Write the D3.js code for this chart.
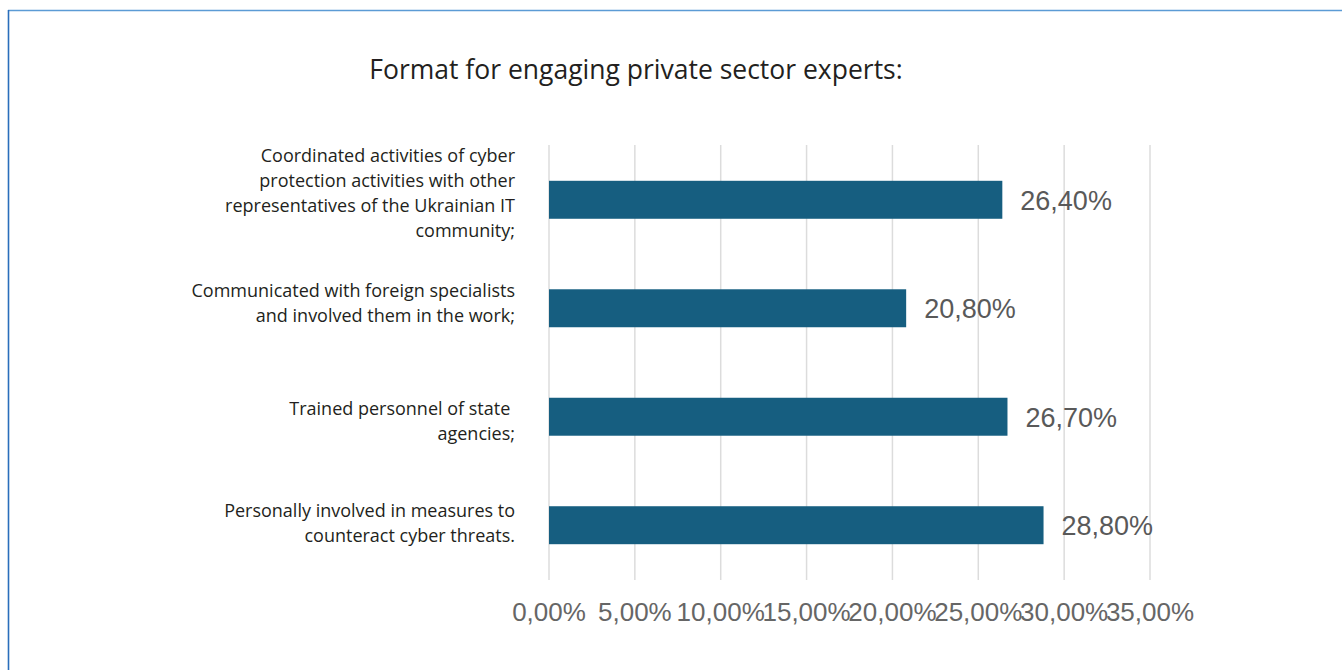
<!DOCTYPE html>
<html>
<head>
<meta charset="utf-8">
<script src="https://cdn.jsdelivr.net/npm/d3@7"></script>
<style>
  html, body { margin: 0; padding: 0; background: #fff; }
  svg { display: block; }
</style>
</head>
<body>
<svg id="chart" width="1342" height="670"></svg>
<script>
// Survey answers, top to bottom
const categories = [
  ["Coordinated activities of cyber", "protection activities with other", "representatives of the Ukrainian IT", "community;"],
  ["Communicated with foreign specialists", "and involved them in the work;"],
  ["Trained personnel of state ", "agencies;"],
  ["Personally involved in measures to", "counteract cyber threats."]
];
const values = [26.4, 20.8, 26.7, 28.8];
const valueLabels = ["26,40%", "20,80%", "26,70%", "28,80%"];
const tickValues = [0, 5, 10, 15, 20, 25, 30, 35];
const tickLabels = ["0,00%", "5,00%", "10,00%", "15,00%", "20,00%", "25,00%", "30,00%", "35,00%"];
const titleText = "Format for engaging private sector experts:";

const svg = d3.select("#chart");

// Frame: top and left rules
svg.append("line").attr("x1", 8).attr("x2", 1342).attr("y1", 10.5).attr("y2", 10.5)
  .attr("stroke", "#5b9bd5").attr("stroke-width", 1.6);
svg.append("line").attr("x1", 8.5).attr("x2", 8.5).attr("y1", 10).attr("y2", 670)
  .attr("stroke", "#2a6ebb").attr("stroke-width", 1.6);

svg.append("text")
  .attr("x", 636).attr("y", 79)
  .attr("text-anchor", "middle")
  .attr("font-family", "'Open Sans', 'Noto Sans', sans-serif")
  .attr("font-size", 26.5)
  .attr("fill", "#231f20")
  .text(titleText);

const x = d3.scaleLinear().domain([0, 35]).range([549, 1150]);
const y = d3.scaleBand().domain(d3.range(values.length)).range([145, 580]).paddingInner(0.65).paddingOuter(0.33);

// Vertical gridlines
svg.append("g").selectAll("line").data(tickValues).join("line")
  .attr("x1", d => x(d)).attr("x2", d => x(d))
  .attr("y1", 145).attr("y2", 580)
  .attr("stroke", "#dcdcdc").attr("stroke-width", 1.5);

// X tick labels
svg.append("g").selectAll("text").data(tickValues).join("text")
  .attr("x", d => x(d)).attr("y", 621)
  .attr("text-anchor", "middle")
  .attr("font-family", "'Liberation Sans', Arial, sans-serif")
  .attr("font-size", 26)
  .attr("fill", "#666666")
  .text((d, i) => tickLabels[i]);

// Bars
svg.append("g").selectAll("rect").data(values).join("rect")
  .attr("x", x(0))
  .attr("y", (d, i) => y(i))
  .attr("width", d => x(d) - x(0))
  .attr("height", y.bandwidth())
  .attr("fill", "#165e80");

// Value labels
svg.append("g").selectAll("text").data(values).join("text")
  .attr("x", d => x(d) + 18)
  .attr("y", (d, i) => y(i) + y.bandwidth() / 2 + 10)
  .attr("font-family", "'Liberation Sans', Arial, sans-serif")
  .attr("font-size", 27)
  .attr("fill", "#595959")
  .text((d, i) => valueLabels[i]);

// Category labels, right-aligned
const labelOffsets = [-6, -5, 5, -2];
const lineH = 25;
categories.forEach((lines, i) => {
  const cy = y(i) + y.bandwidth() / 2 + labelOffsets[i];
  const t = svg.append("text")
    .attr("text-anchor", "end")
    .attr("font-family", "'Open Sans', 'Noto Sans', sans-serif")
    .attr("font-size", 18)
    .attr("fill", "#231f20")
    .attr("xml:space", "preserve");
  lines.forEach((s, k) => {
    t.append("tspan")
      .attr("x", 515)
      .attr("y", cy + (k - (lines.length - 1) / 2) * lineH + 6)
      .text(s);
  });
});
</script>
</body>
</html>
